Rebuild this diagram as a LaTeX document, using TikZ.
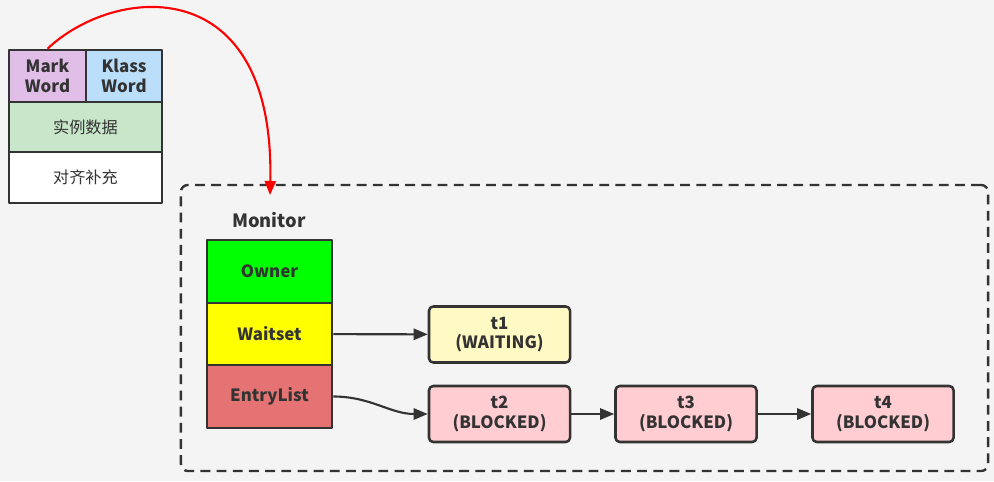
\documentclass[tikz,border=0pt]{standalone}
\usepackage{fontspec}
\setmainfont{Noto Sans CJK SC}
\usetikzlibrary{arrows.meta}
\definecolor{ink}{HTML}{333333}
\definecolor{bgc}{HTML}{F4F4F4}
\definecolor{markc}{HTML}{E1BEE7}
\definecolor{klassc}{HTML}{BBDEFB}
\definecolor{datac}{HTML}{C8E6C9}
\definecolor{ownerc}{HTML}{00FF00}
\definecolor{waitc}{HTML}{FFFF00}
\definecolor{entryc}{HTML}{E57373}
\definecolor{waitingc}{HTML}{FFF9C4}
\definecolor{blockedc}{HTML}{FFCDD2}
\tikzset{
  cell/.style={draw=ink, text=ink, line width=1.8pt, inner sep=0pt, align=center},
  thread/.style={cell, rounded corners=3pt, minimum width=3.525cm, minimum height=1.4cm},
  flow/.style={draw=ink, line width=1.5pt, -{Triangle[length=10pt, width=8pt]}}
}
\begin{document}
\begin{tikzpicture}[x=0.025cm, y=-0.025cm, line join=round, font=\fontsize{12}{14}\selectfont\bfseries]
\fill[bgc] (0,0) rectangle (994,481);
\useasboundingbox (0,0) rectangle (994,481);
% object header
\node[cell, fill=markc, minimum width=1.925cm, minimum height=1.3cm] (mark) at (47.5,76) {Mark\\Word};
\node[cell, fill=klassc, minimum width=1.9cm, minimum height=1.3cm] (klass) at (124,76) {Klass\\Word};
\node[cell, fill=datac, minimum width=3.825cm, minimum height=1.25cm, font=\fontsize{11.5}{14}\selectfont] (data) at (85.5,127) {实例数据};
\node[cell, fill=white, minimum width=3.825cm, minimum height=1.275cm, font=\fontsize{11.5}{14}\selectfont] (pad) at (85.5,177.5) {对齐补充};
% monitor
\node[draw=ink, line width=1.7pt, dash pattern=on 7pt off 4.5pt, rounded corners=5pt, minimum width=20.175cm, minimum height=7.15cm] (frame) at (584.5,328) {};
\node[text=ink, font=\fontsize{13}{15}\selectfont\bfseries] (title) at (269,220) {Monitor};
\node[cell, fill=ownerc, minimum width=3.125cm, minimum height=1.575cm] (owner) at (269.5,271.5) {Owner};
\node[cell, fill=waitc, minimum width=3.125cm, minimum height=1.55cm] (wait) at (269.5,334) {Waitset};
\node[cell, fill=entryc, minimum width=3.125cm, minimum height=1.575cm] (entry) at (269.5,396.5) {EntryList};
\node[thread, fill=waitingc] (t1) at (499.5,334.5) {t1\\(WAITING)};
\foreach \n/\x in {t2/499.5, t3/686, t4/883}
  \node[thread, fill=blockedc] (\n) at (\x,414) {\n\\(BLOCKED)};
\coordinate (hook) at (270,195);
\draw[red, line width=1.5pt, -{Triangle[length=10pt, width=8pt]}] (mark.north) .. controls (115,-15) and (275,-30) .. (hook);
\draw[flow] (wait) -- (t1);
\draw[flow] (entry.east) to[out=0, in=180] (t2.west);
\draw[flow] (t2) -- (t3);
\draw[flow] (t3) -- (t4);
\end{tikzpicture}
\end{document}
